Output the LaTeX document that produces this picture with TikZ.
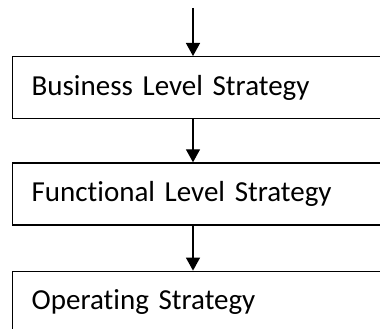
\documentclass[tikz,border=0pt]{standalone}
\usepackage{fontspec}
\setmainfont{Carlito}[Ligatures=NoCommon]
\usetikzlibrary{arrows.meta,positioning}
\begin{document}
\begin{tikzpicture}[
    level/.style={draw, line width=1.3pt, rectangle, anchor=north west, minimum width=420pt, minimum height=62pt, inner xsep=19pt, text width=382pt, align=left, font=\fontsize{29}{35}\selectfont},
    flow/.style={line width=1.3pt, -{Triangle[width=14pt,length=13pt]}}]
        \useasboundingbox (0,0) rectangle (380pt,-329pt);
        \clip (0,0) rectangle (380pt,-329pt);
        \coordinate (in) at (193pt,-8pt);
        \draw node[level] at (12pt,-56pt) (bls) {Business Level Strategy};
        \draw node[level, below = 43pt of bls] (fls) {Functional Level Strategy};
        \draw node[level, below = 45pt of fls] (ops) {Operating Strategy};
        \draw[flow] (in) -- (in |- bls.north);
        \draw[flow] (in |- bls.south) -- (in |- fls.north);
        \draw[flow] (in |- fls.south) -- (in |- ops.north);
      \end{tikzpicture}
\end{document}
